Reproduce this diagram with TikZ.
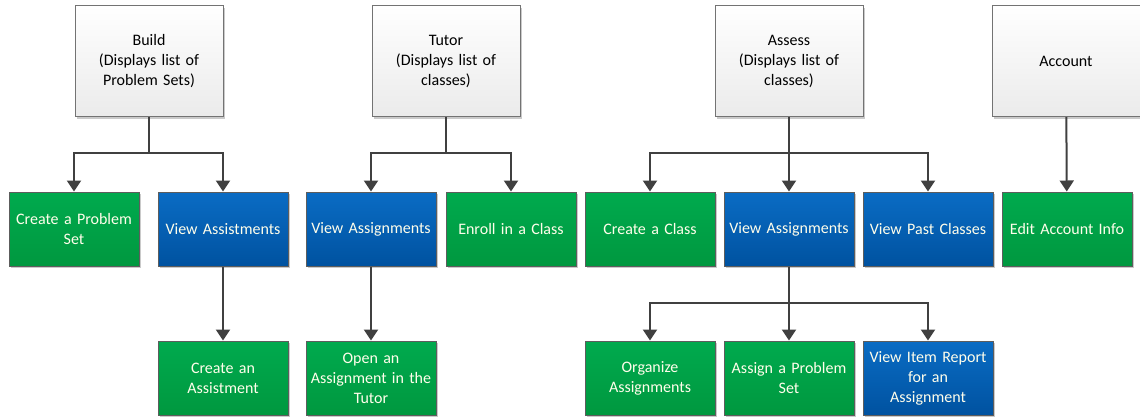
\documentclass[tikz,border=0pt]{standalone}
\usepackage{fontspec}
\setmainfont{Carlito}
\usetikzlibrary{arrows.meta,shadows}

\definecolor{linegray}{HTML}{404040}
\definecolor{boxgreen}{HTML}{00AA4E}
\definecolor{boxgreendk}{HTML}{00983F}
\definecolor{boxblue}{HTML}{0A6CC4}
\definecolor{boxbluedk}{HTML}{0052A0}

\tikzset{
  base/.style={rectangle, draw=linegray!85, line width=1pt, align=center,
    inner xsep=2pt, font=\fontsize{16}{20}\selectfont,
    drop shadow={shadow xshift=2pt, shadow yshift=-2pt, fill=black!35, opacity=.6}},
  topbox/.style={base, minimum width=148pt, minimum height=111pt, text width=132pt,
    top color=white, bottom color=black!8, draw=black!55, text=black},
  greenbox/.style={base, minimum width=130pt, minimum height=74pt, text width=125pt,
    top color=boxgreen, bottom color=boxgreendk, text=white!92!yellow},
  bluebox/.style={base, minimum width=130pt, minimum height=74pt, text width=125pt,
    top color=boxblue, bottom color=boxbluedk, text=white!92!yellow},
  link/.style={draw=linegray, line width=2pt},
  arrow/.style={link, -{Triangle[width=14pt,length=11pt]}}
}

\begin{document}
\begin{tikzpicture}[x=1pt,y=1pt]
  \useasboundingbox (0,0) rectangle (1140,-416);

  % top row
  \node[topbox] (build) at (149,-61) {Build\\(Displays list of\\Problem Sets)};
  \node[topbox] (tutor) at (446,-61) {Tutor\\(Displays list of\\classes)};
  \node[topbox] (assess) at (789,-61) {Assess\\(Displays list of\\classes)};
  \node[topbox] (account) at (1066,-61) {Account};

  % second row
  \node[greenbox] (createps) at (74,-229) {Create a Problem\\Set};
  \node[bluebox] (viewasst) at (223,-229) {View Assistments};
  \node[bluebox] (tutorview) at (371,-229) {View Assignments};
  \node[greenbox] (enroll) at (511,-229) {Enroll in a Class};
  \node[greenbox] (createcls) at (650,-229) {Create a Class};
  \node[bluebox] (assessview) at (789,-229) {View Assignments};
  \node[bluebox] (past) at (928,-229) {View Past Classes};
  \node[greenbox] (editacct) at (1067,-229) {Edit Account Info};

  % third row
  \node[greenbox] (createasst) at (223,-378) {Create an\\Assistment};
  \node[greenbox] (openasgn) at (371,-378) {Open an\\Assignment in the\\Tutor};
  \node[greenbox] (organize) at (650,-378) {Organize\\Assignments};
  \node[greenbox] (assignps) at (789,-378) {Assign a Problem\\Set};
  \node[bluebox] (itemrep) at (928,-378) {View Item Report\\for an\\Assignment};

  % junctions
  \coordinate (bj) at (149,-153);
  \coordinate (tj) at (446,-153);
  \coordinate (aj) at (789,-153);
  \coordinate (vj) at (789,-303);

  % connectors
  \draw[link] (build) -- (bj);
  \draw[arrow] (bj) -| (createps);
  \draw[arrow] (bj) -| (viewasst);
  \draw[link] (tutor) -- (tj);
  \draw[arrow] (tj) -| (tutorview);
  \draw[arrow] (tj) -| (enroll);
  \draw[link] (assess) -- (aj);
  \draw[arrow] (aj) -| (createcls);
  \draw[arrow] (aj) -- (assessview);
  \draw[arrow] (aj) -| (past);
  \draw[arrow] (account) -- (editacct);
  \draw[arrow] (viewasst) -- (createasst);
  \draw[arrow] (tutorview) -- (openasgn);
  \draw[link] (assessview) -- (vj);
  \draw[arrow] (vj) -| (organize);
  \draw[arrow] (vj) -- (assignps);
  \draw[arrow] (vj) -| (itemrep);
\end{tikzpicture}
\end{document}
